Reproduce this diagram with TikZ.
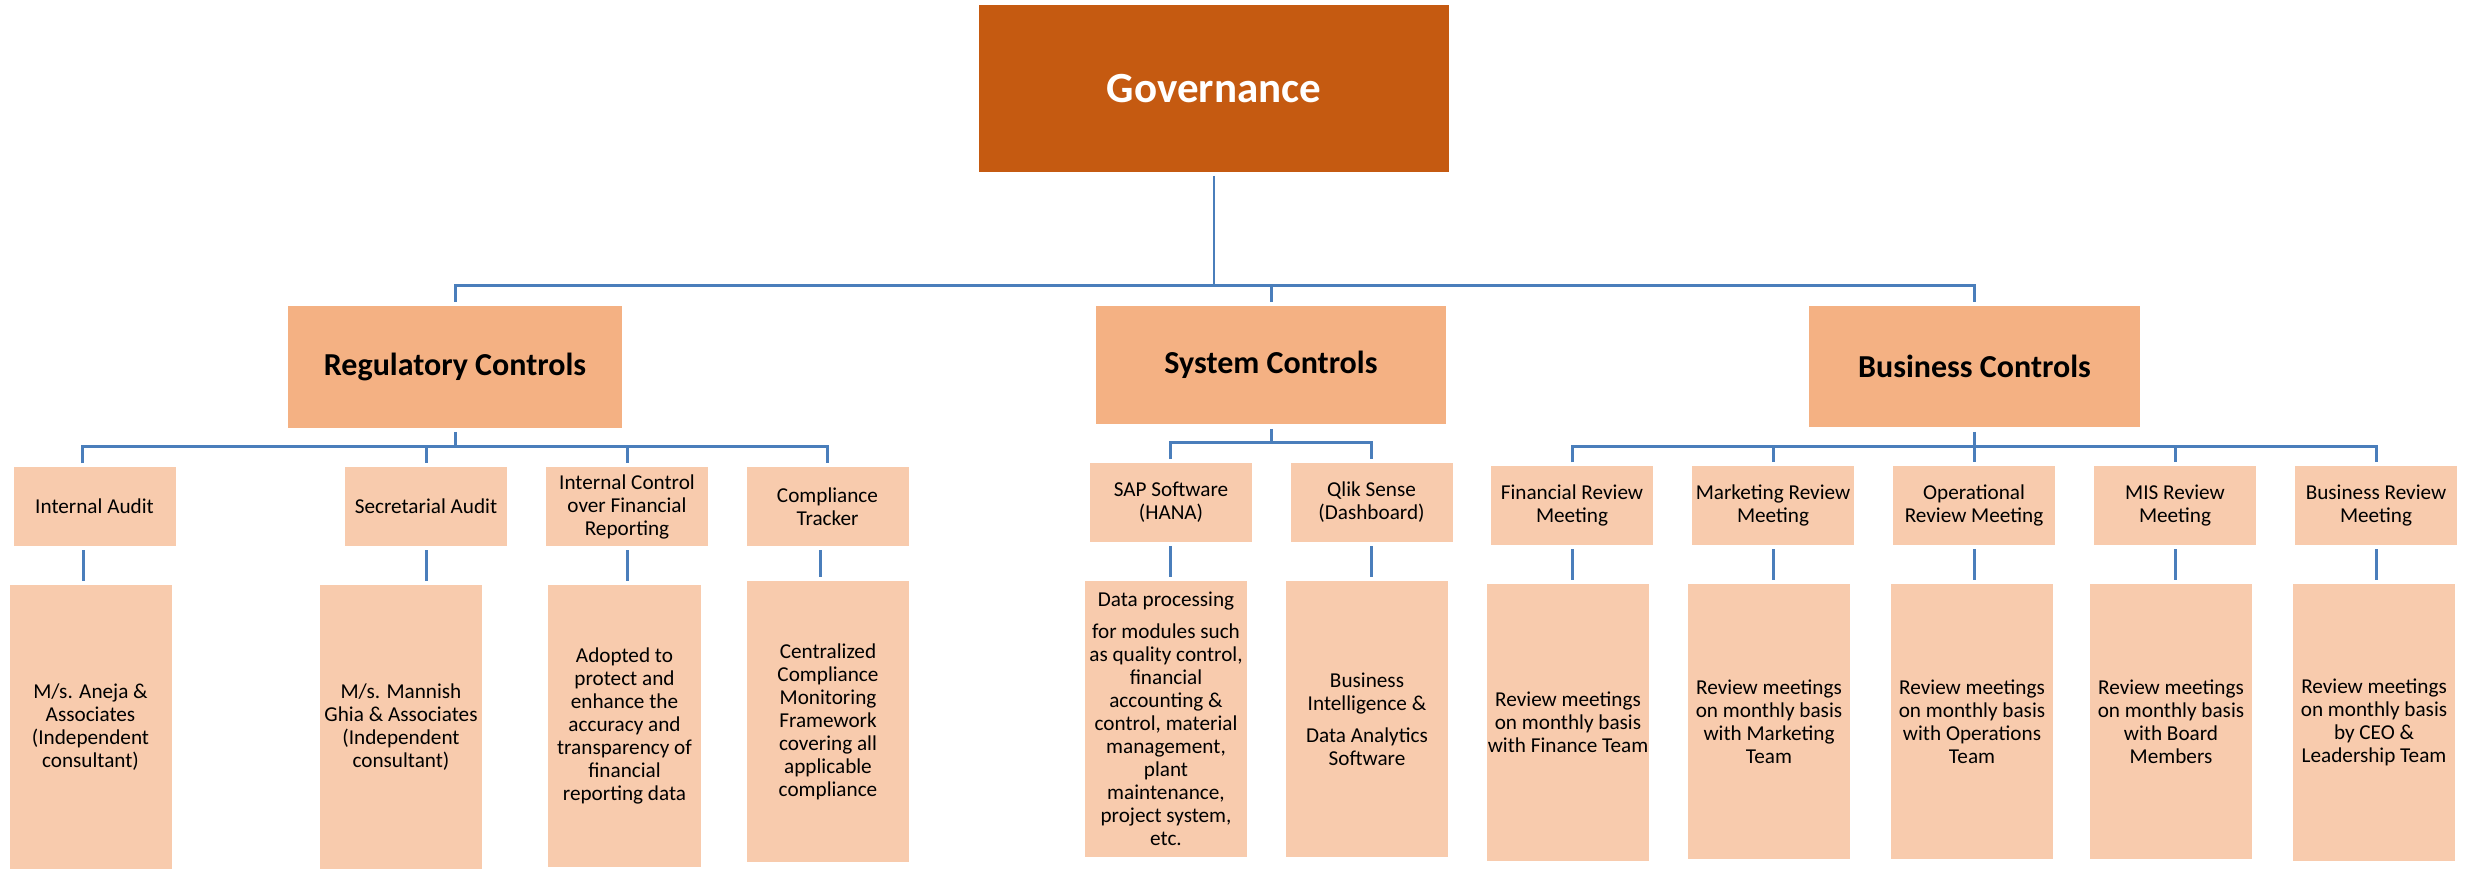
\documentclass[tikz,border=0pt]{standalone}
\usepackage{fontspec}
\setmainfont{Carlito}
\usetikzlibrary{calc}
\definecolor{gov}{HTML}{C55A11}
\definecolor{lvtwo}{HTML}{F4B183}
\definecolor{lvthree}{HTML}{F8CBAD}
\definecolor{conncol}{HTML}{4A7EBB}
\tikzset{
  box/.style={inner sep=0pt, outer sep=0pt, align=center, anchor=center},
  govbox/.style={box, fill=gov, text=white, font=\fontsize{21.5pt}{25pt}\selectfont\bfseries},
  twobox/.style={box, fill=lvtwo, font=\fontsize{16pt}{19pt}\selectfont\bfseries},
  threebox/.style={box, fill=lvthree, font=\fontsize{10.6pt}{11.5pt}\selectfont},
  hd/.style={minimum width=81pt, minimum height=39.5pt},
  dt/.style={minimum width=81pt},
  conn/.style={draw=conncol, line width=1.5pt},
}
\begin{document}
\begin{tikzpicture}[x=0.5pt,y=-0.5pt]
\useasboundingbox[fill=white] (0,0) rectangle (2473,871);
% level 1
\node[govbox, minimum width=235pt, minimum height=83.5pt] (gov) at (1214,88.5) {Governance};
% level 2
\node[twobox, minimum width=167pt, minimum height=61pt] (reg) at (455,367) {Regulatory Controls};
\node[twobox, minimum width=175pt, minimum height=59pt] (sys) at (1271,365) {System Controls};
\node[twobox, minimum width=165.5pt, minimum height=60.5pt] (bus) at (1974.5,366.5) {Business Controls};
% level 3 headers
\node[threebox, hd] (ia) at (94.5,506.5) {Internal Audit};
\node[threebox, hd] (sa) at (426,506.5) {Secretarial Audit};
\node[threebox, hd] (icfr) at (627,506.5) {Internal Control\\over Financial\\Reporting};
\node[threebox, hd] (ct) at (827.5,506.5) {Compliance\\Tracker};
\node[threebox, hd] (sap) at (1171,502.5) {SAP Software\\(HANA)};
\node[threebox, hd] (qlik) at (1371.5,502.5) {Qlik Sense\\(Dashboard)};
\node[threebox, hd] (frm) at (1572,505.5) {Financial Review\\Meeting};
\node[threebox, hd] (mrm) at (1773,505.5) {Marketing Review\\Meeting};
\node[threebox, hd] (orm) at (1974,505.5) {Operational\\Review Meeting};
\node[threebox, hd] (mis) at (2175,505.5) {MIS Review\\Meeting};
\node[threebox, hd] (brm) at (2376,505.5) {Business Review\\Meeting};
% details
\node[threebox, dt, minimum height=142pt] (iad) at (90.5,727) {M/s. Aneja \&\\Associates\\(Independent\\consultant)};
\node[threebox, dt, minimum height=142pt] (sad) at (401,727) {M/s. Mannish\\Ghia \& Associates\\(Independent\\consultant)};
\node[threebox, minimum width=76.5pt, minimum height=141pt] (icfrd) at (624.5,726) {Adopted to\\protect and\\enhance the\\accuracy and\\transparency of\\financial\\reporting data};
\node[threebox, dt, minimum height=140.5pt] (ctd) at (828,721.5) {Centralized\\Compliance\\Monitoring\\Framework\\covering all\\applicable\\compliance};
\node[threebox, dt, minimum height=138pt] (sapd) at (1166,719) {Data processing\\[4.5pt]for modules such\\as quality control,\\financial\\accounting \&\\control, material\\management,\\plant\\maintenance,\\project system,\\etc.};
\node[threebox, dt, minimum height=138pt] (qlikd) at (1367,719) {Business\\Intelligence \&\\[4.5pt]Data Analytics\\Software};
\node[threebox, dt, minimum height=138.5pt] (frmd) at (1568,722.5) {Review meetings\\on monthly basis\\with Finance Team};
\node[threebox, dt, minimum height=137.5pt] (mrmd) at (1769,721.5) {Review meetings\\on monthly basis\\with Marketing\\Team};
\node[threebox, dt, minimum height=137.5pt] (ormd) at (1972,721.5) {Review meetings\\on monthly basis\\with Operations\\Team};
\node[threebox, dt, minimum height=137.5pt] (misd) at (2171,721.5) {Review meetings\\on monthly basis\\with Board\\Members};
\node[threebox, dt, minimum height=138.5pt] (brmd) at (2374,722.5) {Review meetings\\on monthly basis\\by CEO \&\\Leadership Team};
% main bus
\coordinate (mainbus) at ($(gov.south)+(0,114)$);
\draw[conn, line width=1.1pt] ($(gov.south)+(0,4)$) -- (mainbus);
\draw[conn] ($(reg.north)+(0,-4)$) -- (mainbus -| reg.north) -- (mainbus -| bus.north) -- ($(bus.north)+(0,-4)$);
\draw[conn] (mainbus -| sys.north) -- ($(sys.north)+(0,-4)$);
% regulatory bus
\coordinate (regbus) at ($(reg.south)+(0,19)$);
\coordinate (iatop) at ($(ia.north)+(-12,-4)$);
\draw[conn] ($(reg.south)+(0,4)$) -- (regbus);
\draw[conn] (iatop) -- (regbus -| iatop) -- (regbus -| ct.north) -- ($(ct.north)+(0,-4)$);
\draw[conn] (regbus -| sa.north) -- ($(sa.north)+(0,-4)$);
\draw[conn] (regbus -| icfr.north) -- ($(icfr.north)+(0,-4)$);
% system bus
\coordinate (sysbus) at ($(sys.south)+(0,19)$);
\coordinate (saptop) at ($(sap.north)+(-1,-4)$);
\draw[conn] ($(sys.south)+(0,5)$) -- (sysbus);
\draw[conn] (saptop) -- (sysbus -| saptop) -- (sysbus -| qlik.north) -- ($(qlik.north)+(0,-4)$);
% business bus
\coordinate (busbus) at ($(bus.south)+(0,20)$);
\draw[conn] ($(bus.south)+(0,5)$) -- (busbus);
\draw[conn] ($(frm.north)+(0,-4)$) -- (busbus -| frm.north) -- (busbus -| brm.north) -- ($(brm.north)+(0,-4)$);
\draw[conn] (busbus -| mrm.north) -- ($(mrm.north)+(0,-4)$);
\draw[conn] (busbus -| orm.north) -- ($(orm.north)+(0,-4)$);
\draw[conn] (busbus -| mis.north) -- ($(mis.north)+(0,-4)$);
% header to detail connectors
\draw[conn] ($(ia.south)+(-11.5,4)$) -- ($(iad.north)+(-7.5,-4)$);
\draw[conn] ($(sa.south)+(0,4)$) -- ($(sad.north)+(25,-4)$);
\draw[conn] ($(icfr.south)+(0,4)$) -- ($(icfrd.north)+(2.5,-4)$);
\draw[conn] ($(ct.south)+(-7.5,4)$) -- ($(ctd.north)+(-8,-4)$);
\draw[conn] ($(sap.south)+(-1,4)$) -- ($(sapd.north)+(4,-4)$);
\draw[conn] ($(qlik.south)+(0,4)$) -- ($(qlikd.north)+(4.5,-4)$);
\draw[conn] ($(frm.south)+(0,4)$) -- ($(frmd.north)+(4,-4)$);
\draw[conn] ($(mrm.south)+(0,4)$) -- ($(mrmd.north)+(4,-4)$);
\draw[conn] ($(orm.south)+(0,4)$) -- ($(ormd.north)+(2,-4)$);
\draw[conn] ($(mis.south)+(0,4)$) -- ($(misd.north)+(4,-4)$);
\draw[conn] ($(brm.south)+(0,4)$) -- ($(brmd.north)+(2,-4)$);
\end{tikzpicture}
\end{document}
